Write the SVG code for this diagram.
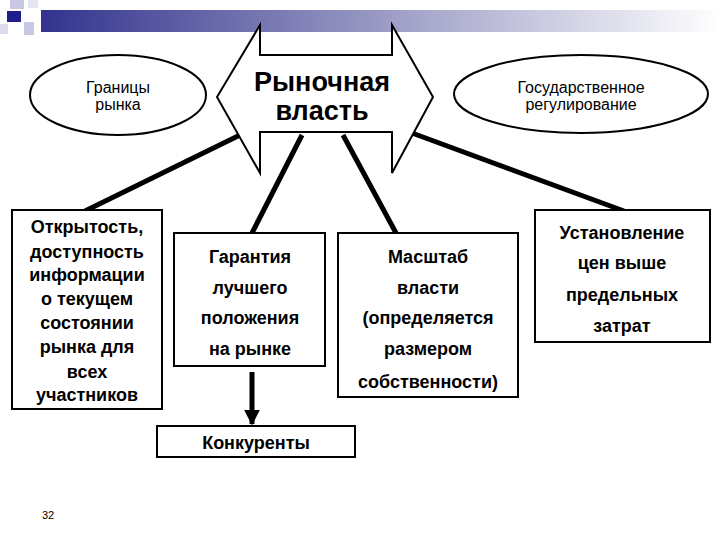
<svg xmlns="http://www.w3.org/2000/svg" width="720" height="540" viewBox="0 0 720 540">
<style>
.s{fill:#fff;stroke:#000;stroke-width:2}
.t{font-family:"Liberation Sans",Arial,sans-serif;font-size:18px;text-anchor:middle;fill:#000}
.b{font-weight:bold}
.c{stroke:#000;stroke-width:5;fill:none;stroke-linecap:butt}
</style>
<defs>
<linearGradient id="g" x1="0" x2="1"><stop offset="0" stop-color="#33338f"/><stop offset="0.5" stop-color="#9a9ac4"/><stop offset="1" stop-color="#ffffff"/></linearGradient>
<marker id="ah" viewBox="0 0 10 10" refX="9" refY="5" markerWidth="3.2" markerHeight="4" orient="auto" markerUnits="strokeWidth"><path d="M0,0L10,5L0,10z" fill="#000"/></marker>
</defs>
<rect width="720" height="540" fill="#fff"/>
<g id="decor">
<rect x="41" y="10" width="679" height="22" fill="url(#g)"/>
<rect x="10" y="0" width="14" height="9" fill="#c8c8e4"/>
<rect x="24" y="22" width="10" height="13" fill="#c8c8e4"/>
<rect x="0" y="24" width="8" height="10" fill="#dcdcee"/>
<rect x="28" y="0" width="10" height="8" fill="#e4e4f2"/>
<rect x="7" y="11" width="14" height="11" fill="#1e1e8c"/>
</g>
<g id="connectors">
<line class="c" x1="240" y1="135" x2="85" y2="211"/>
<line class="c" x1="302" y1="135" x2="252" y2="233"/>
<line class="c" x1="343" y1="135" x2="396" y2="233"/>
<line class="c" x1="412" y1="133" x2="624" y2="211"/>
<line class="c" x1="252" y1="372" x2="252" y2="424" marker-end="url(#ah)"/>
</g>
<g id="power">
<polygon class="s" points="217,97 260,25 260,55 392,55 392,25 433,97 392,173 392,132 260,132 260,173"/>
<text class="t b" x="322" y="91" style="font-size:27px">Рыночная</text>
<text class="t b" x="322" y="120" style="font-size:27px">власть</text>
</g>
<g id="borders">
<ellipse class="s" cx="118" cy="95" rx="88" ry="40"/>
<text class="t" x="118" y="93" style="font-size:16px">Границы</text>
<text class="t" x="118" y="110" style="font-size:16px">рынка</text>
</g>
<g id="gov">
<ellipse class="s" cx="581" cy="94" rx="127" ry="39"/>
<text class="t" x="581" y="93" style="font-size:16px">Государственное</text>
<text class="t" x="581" y="110" style="font-size:16px">регулирование</text>
</g>
<g id="open">
<rect class="s" x="12" y="210" width="150" height="199"/>
<text class="t b" x="87" y="233">Открытость,</text>
<text class="t b" x="87" y="258">доступность</text>
<text class="t b" x="87" y="281">информации</text>
<text class="t b" x="87" y="305">о текущем</text>
<text class="t b" x="87" y="329">состоянии</text>
<text class="t b" x="87" y="353">рынка для</text>
<text class="t b" x="87" y="378">всех</text>
<text class="t b" x="87" y="401">участников</text>
</g>
<g id="guarantee">
<rect class="s" x="174" y="233" width="151" height="133"/>
<text class="t b" x="250" y="263">Гарантия</text>
<text class="t b" x="250" y="294">лучшего</text>
<text class="t b" x="250" y="324">положения</text>
<text class="t b" x="250" y="355">на рынке</text>
</g>
<g id="scale">
<rect class="s" x="338" y="233" width="180" height="164"/>
<text class="t b" x="428" y="263">Масштаб</text>
<text class="t b" x="428" y="294">власти</text>
<text class="t b" x="428" y="324">(определяется</text>
<text class="t b" x="428" y="355">размером</text>
<text class="t b" x="428" y="388">собственности)</text>
</g>
<g id="prices">
<rect class="s" x="535" y="210" width="175" height="132"/>
<text class="t b" x="622" y="239">Установление</text>
<text class="t b" x="622" y="269">цен выше</text>
<text class="t b" x="622" y="301">предельных</text>
<text class="t b" x="622" y="332">затрат</text>
</g>
<g id="competitors">
<rect class="s" x="157" y="426" width="198" height="31"/>
<text class="t b" x="256" y="449">Конкуренты</text>
</g>
<text x="48" y="519" style="font-family:'Liberation Sans',sans-serif;font-size:11px;text-anchor:middle">32</text>
</svg>
